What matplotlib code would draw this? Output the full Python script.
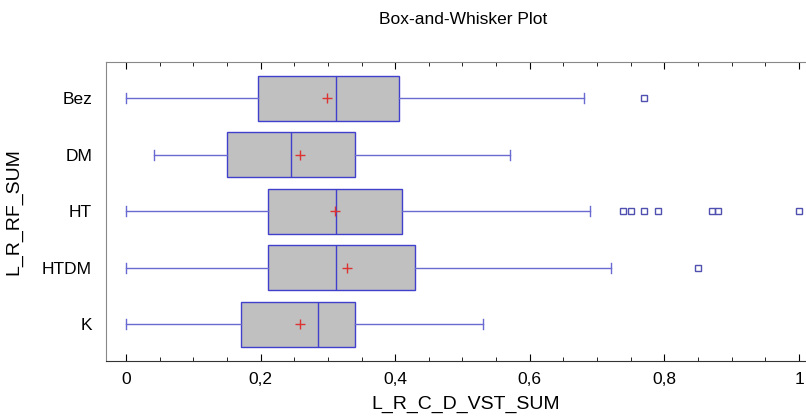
import matplotlib
matplotlib.use('Agg')
import matplotlib.pyplot as plt
from matplotlib.ticker import MultipleLocator, FuncFormatter

plt.rcParams['font.family'] = ['Liberation Sans', 'DejaVu Sans']

# groups, top to bottom
groups = ['Bez', 'DM', 'HT', 'HTDM', 'K']
whis_lo = [0.0, 0.041, 0.0, 0.0, 0.0]
q1 = [0.196, 0.150, 0.2105, 0.2105, 0.171]
median = [0.312, 0.245, 0.312, 0.312, 0.286]
mean = [0.299, 0.258, 0.311, 0.328, 0.259]
q3 = [0.406, 0.340, 0.410, 0.430, 0.340]
whis_hi = [0.681, 0.571, 0.690, 0.720, 0.531]
outliers = [
    [0.770],
    [],
    [0.739, 0.750, 0.770, 0.790, 0.870, 0.880, 1.0],
    [0.850],
    [],
]

box_edge = '#4040cc'
whisk_col = '#6a6ad0'

stats = []
for i in range(len(groups)):
    stats.append({
        'label': groups[i], 'whislo': whis_lo[i], 'q1': q1[i], 'med': median[i],
        'mean': mean[i], 'q3': q3[i], 'whishi': whis_hi[i], 'fliers': outliers[i],
    })

fig = plt.figure(figsize=(8.06, 4.16), dpi=100)
ax = fig.add_axes([106 / 806, 1 - 361 / 416, 707 / 806, (361 - 61.7) / 416])

positions = list(range(len(groups), 0, -1))
ax.bxp(stats, positions=positions, vert=False, widths=0.8, capwidths=0.18,
       patch_artist=True, showmeans=True,
       boxprops=dict(facecolor='#c0c0c0', edgecolor=box_edge, linewidth=1.0),
       medianprops=dict(color=box_edge, linewidth=1.0),
       whiskerprops=dict(color=whisk_col, linewidth=1.0),
       capprops=dict(color=whisk_col, linewidth=1.0),
       meanprops=dict(marker='+', markeredgecolor='#dd3333', markersize=7, markeredgewidth=1.0),
       flierprops=dict(marker='s', markerfacecolor='none', markeredgecolor='#5050b0',
                       markersize=5, markeredgewidth=1.0))

ax.set_xlim(-0.0297, 1.0208)
ax.set_ylim(0.35, 5.65)
ax.set_yticks(positions)
ax.set_yticklabels(groups)
ax.tick_params(axis='y', length=0, pad=10, labelsize=12.5)

ax.xaxis.set_major_locator(MultipleLocator(0.2))
ax.xaxis.set_minor_locator(MultipleLocator(0.05))
ax.xaxis.set_major_formatter(FuncFormatter(lambda v, p: ('%g' % round(v, 2)).replace('.', ',')))
ax.tick_params(axis='x', which='both', direction='in', top=True, labelsize=12.5, pad=8)
ax.tick_params(axis='x', which='major', length=5)
ax.tick_params(axis='x', which='minor', length=3)

ax.spines['right'].set_visible(False)
for s in ['top', 'left']:
    ax.spines[s].set_color('#888888')
ax.spines['bottom'].set_color('#333333')

# x label sits low near the bottom edge
ax.set_xlabel('L_R_C_D_VST_SUM', fontsize=14)
ax.xaxis.label.set_va('baseline')
ax.xaxis.set_label_coords(0.509, (361 - 409) / 299.3)
ax.set_ylabel('L_R_RF_SUM', fontsize=14)
ax.yaxis.label.set_va('center')
ax.yaxis.set_label_coords((14 - 106) / 707, 0.5)
fig.text(463 / 806, 1 - 20 / 416, 'Box-and-Whisker Plot', ha='center', va='center', fontsize=12.5)

fig.savefig('out.png', dpi=100)
